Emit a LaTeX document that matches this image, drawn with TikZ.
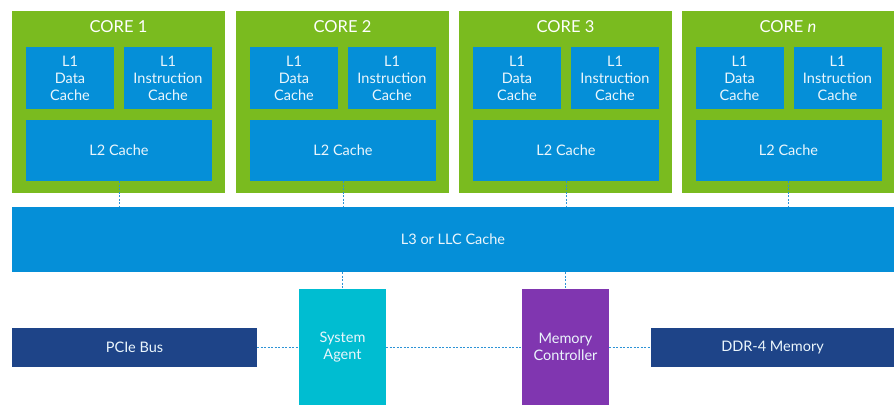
\documentclass[tikz,border=0pt]{standalone}
\usepackage{fontspec}
\setmainfont{Lato}
\usetikzlibrary{calc}

\definecolor{coregreen}{HTML}{7ABB1F}
\definecolor{cacheblue}{HTML}{058FD8}
\definecolor{agentcyan}{HTML}{00BDD1}
\definecolor{ctrlpurple}{HTML}{8036B0}
\definecolor{busblue}{HTML}{1E4488}
\definecolor{linkblue}{HTML}{2C93D6}

\begin{document}
\begin{tikzpicture}[x = 1pt, y = -1pt,
		box/.style = {fill = #1, text = white!92!cacheblue, inner sep = 0pt, align = center,
			font = \fontsize{14.5}{17}\selectfont},
		link/.style = {linkblue, line width = 1pt, dash pattern = on 2pt off 1.5pt}]
							\useasboundingbox (0,0) rectangle (894,405);

							% cores
							\foreach \i/\lbl/\x in {1/1/118.5, 2/2/342.5, 3/3/565.5, n/\textit{n}/788}
							{
								\node [box = coregreen, minimum width = 213pt, minimum height = 182pt] (core\i) at (\x,102) {};
								\node [text = white, font = \fontsize{16.5}{20}\selectfont] (title\i) at (\x,26.5) {CORE \lbl};
								\node [box = cacheblue, minimum width = 88pt, minimum height = 62pt] (lone\i) at (\x-48.5,78) {L1\\Data\\Cache};
								\node [box = cacheblue, minimum width = 88pt, minimum height = 62pt] (ltwo\i) at (\x+49.5,78) {L1\\Instruction\\Cache};
								\node [box = cacheblue, minimum width = 186pt, minimum height = 61pt] (l2\i) at (\x+0.5,150.5) {L2 Cache};
							}

							\node [box = cacheblue, minimum width = 882pt, minimum height = 65pt] (l3) at (453,239.5) {L3 or LLC Cache};

							\node [box = agentcyan, minimum width = 87pt, minimum height = 116pt] (sa) at (342.5,347) {System\\Agent};
							\node [box = ctrlpurple, minimum width = 87pt, minimum height = 116pt] (mc) at (565.5,347) {Memory\\Controller};
							\node [box = busblue, minimum width = 245pt, minimum height = 39pt] (pcie) at (134.5,347.5) {PCIe Bus};
							\node [box = busblue, minimum width = 243pt, minimum height = 39pt] (ddr) at (772.5,347.5) {DDR-4 Memory};

							% links
							\foreach \i in {1,2,3,n}
							{
								\draw [link] (l2\i.south) -- (l2\i.south |- l3.north);
							}
							\draw [link] (l3.south -| sa.north) -- (sa.north);
							\draw [link] (l3.south -| mc.north) -- (mc.north);
							\draw [link] (pcie.east) -- (pcie.east -| sa.west);
							\draw [link] (sa.east |- pcie.east) -- (mc.west |- pcie.east);
							\draw [link] (mc.east |- ddr.west) -- (ddr.west);
						\end{tikzpicture}
\end{document}
